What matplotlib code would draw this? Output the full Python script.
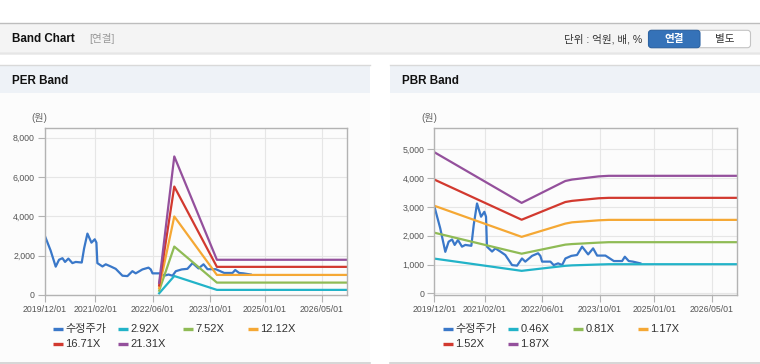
import matplotlib
matplotlib.use("Agg")
import matplotlib.pyplot as plt
import matplotlib.dates as mdates
from matplotlib.patches import Rectangle, FancyBboxPatch
from matplotlib.lines import Line2D
import pandas as pd

plt.rcParams['font.family'] = ['Liberation Sans', 'Noto Sans CJK KR']

# ----------------------------
# DATA
# ----------------------------
price_dates = ['2019-12-02', '2020-01-20', '2020-03-03', '2020-03-31', '2020-04-29',
               '2020-05-21', '2020-06-18', '2020-07-22', '2020-08-19', '2020-10-09',
               '2020-10-29', '2020-11-26', '2020-12-30', '2021-01-27', '2021-02-10',
               '2021-02-18', '2021-04-02', '2021-04-30', '2021-06-11', '2021-07-23',
               '2021-09-18', '2021-10-30', '2021-12-11', '2022-01-08', '2022-03-06',
               '2022-04-26', '2022-05-15', '2022-05-30', '2022-08-08', '2022-09-05',
               '2022-10-12', '2022-11-15', '2022-12-13', '2023-02-01', '2023-03-21',
               '2023-05-03', '2023-06-23', '2023-08-04', '2023-09-07', '2023-11-16',
               '2024-01-26', '2024-04-05', '2024-04-28', '2024-05-31', '2024-07-05',
               '2024-09-06']
price = [3010, 2260, 1440, 1790, 1870, 1680, 1850, 1620, 1680, 1650,
         2370, 3120, 2660, 2830, 2660, 1620, 1450, 1560, 1450, 1330,
         980, 960, 1210, 1100, 1300, 1390, 1300, 1100, 1100, 980,
         1040, 980, 1210, 1300, 1330, 1620, 1350, 1560, 1310, 1310,
         1120, 1120, 1270, 1120, 1100, 1040]

per_dates = ['2022-07-25', '2022-11-30', '2023-11-25', '2026-12-01']
per_labels = ['2.92X', '7.52X', '12.12X', '16.71X', '21.31X']
per_bands = [
    [85, 965, 260, 260],
    [220, 2460, 630, 630],
    [350, 3990, 1020, 1020],
    [485, 5510, 1430, 1430],
    [620, 7040, 1790, 1790],
]

pbr_dates = ['2019-12-01', '2021-12-08', '2022-12-12', '2023-02-07',
             '2023-09-20', '2023-12-14', '2026-12-01']
pbr_labels = ['0.46X', '0.81X', '1.17X', '1.52X', '1.87X']
pbr_bands = [
    [1205, 780, 955, 970, 1000, 1010, 1010],
    [2105, 1375, 1690, 1710, 1760, 1775, 1775],
    [3040, 1960, 2420, 2465, 2535, 2550, 2550],
    [3950, 2555, 3170, 3210, 3300, 3315, 3315],
    [4900, 3140, 3900, 3950, 4060, 4080, 4080],
]

x_ticks = ['2019-12-01', '2021-02-01', '2022-06-01', '2023-10-01', '2025-01-01', '2026-05-01']
price_label = '수정주가'

colors = ['#3a78c9', '#22b3c8', '#8fbb55', '#f5a834', '#d2392f', '#94509c']

W, H = 760, 364

# ----------------------------
# FIGURE + PAGE BACKGROUND
# ----------------------------
fig = plt.figure(figsize=(W / 100, H / 100), dpi=100)
fig.patch.set_facecolor('white')

bg = fig.add_axes([0, 0, 1, 1], zorder=-10)
bg.set_xlim(0, W)
bg.set_ylim(H, 0)
bg.axis('off')

# header bar
bg.add_patch(Rectangle((0, 23), W, 29.5, facecolor='#f4f4f4', edgecolor='none'))
bg.plot([0, W], [23, 23], color='#bdbdbd', lw=1)
bg.plot([0, W], [52.8, 52.8], color='#c9c9c9', lw=1)
bg.plot([0, W], [54, 54], color='#ececec', lw=1.2)
bg.text(11.5, 38.5, 'Band Chart', fontsize=8.4, fontweight='bold', color='#111',
        va='center', ha='left')
bg.text(89, 38.5, '[연결]', fontsize=7.6, color='#999', va='center', ha='left')
bg.text(642, 39, '단위 : 억원, 배, %', fontsize=7.6, color='#333', va='center', ha='right')

bg.add_patch(FancyBboxPatch((648.5, 30.3), 102, 17.4, boxstyle='round,pad=0,rounding_size=3',
                            facecolor='white', edgecolor='#c4c4c4', lw=0.8))
bg.add_patch(FancyBboxPatch((648.5, 30.3), 51.5, 17.4, boxstyle='round,pad=0,rounding_size=3',
                            facecolor='#3572b8', edgecolor='#2d64a4', lw=0.8))
bg.text(674, 39.2, '연결', fontsize=7.6, fontweight='bold', color='white', va='center', ha='center')
bg.text(725, 39.2, '별도', fontsize=7.6, color='#333', va='center', ha='center')

# panels
for px0, title in [(0, 'PER Band'), (390, 'PBR Band')]:
    bg.add_patch(Rectangle((px0, 64.7), 370, 298.5, facecolor='#fcfcfc', edgecolor='none'))
    bg.add_patch(Rectangle((px0, 64.7), 370, 28, facecolor='#eef2f7', edgecolor='none'))
    bg.plot([px0, px0 + 370], [64.7, 64.7], color='#d9d9d9', lw=1)
    bg.plot([px0, px0 + 370], [363, 363], color='#d0d0d0', lw=1.2)
    bg.text(px0 + 11.5, 80.5, title, fontsize=8.4, fontweight='bold', color='#111',
            va='center', ha='left')
    bg.text(px0 + 39.5, 118, '(원)', fontsize=7.2, color='#666', va='center', ha='center')

# ----------------------------
# CHARTS
# ----------------------------
pdates = pd.to_datetime(price_dates)
x_left = pd.Timestamp('2019-12-01')
x_right = pd.Timestamp('2026-12-01')


def draw_band(rect, band_dates, bands, ylim, yticks):
    ax = fig.add_axes(rect)
    ax.set_facecolor('none')
    ax.plot(pdates, price, color=colors[0], lw=1.6)
    bd = pd.to_datetime(band_dates)
    for i, vals in enumerate(bands):
        ax.plot(bd, vals, color=colors[i + 1], lw=1.6)
    ax.set_xlim(x_left, x_right)
    ax.set_ylim(*ylim)
    ax.set_yticks(yticks)
    ax.set_yticklabels([f'{v:,}' for v in yticks])
    ax.set_xticks(pd.to_datetime(x_ticks))
    ax.set_xticklabels([d.replace('-', '/') for d in x_ticks])
    ax.grid(True, color='#e6e6e6', lw=0.8)
    ax.set_axisbelow(True)
    for s in ax.spines.values():
        s.set_color('#b3b3b3')
        s.set_linewidth(1)
    ax.tick_params(axis='both', length=5, width=0.8, color='#b3b3b3',
                   labelsize=6.3, labelcolor='#555', pad=2)
    return ax


ax1 = draw_band([44.7 / W, 1 - 295 / H, 302.6 / W, 166.7 / H],
                per_dates, per_bands, (0, 8470), [0, 2000, 4000, 6000, 8000])
ax2 = draw_band([434.3 / W, 1 - 295 / H, 302.6 / W, 166.7 / H],
                pbr_dates, pbr_bands, (-59, 5730), [0, 1000, 2000, 3000, 4000, 5000])

# ----------------------------
# LEGENDS (fixed-width grid like the original)
# ----------------------------
for x0, labels in [(53, per_labels), (443, pbr_labels)]:
    items = [price_label] + labels
    for k, lab in enumerate(items):
        col, row = k % 4, k // 4
        lx = x0 + col * 65
        ly = 329.3 + row * 14.7
        bg.plot([lx, lx + 10], [ly, ly], color=colors[k], lw=2.4, solid_capstyle='butt')
        bg.text(lx + 12.5, ly, lab, fontsize=8, color='#333', va='center', ha='left')

fig.savefig('out.png', dpi=100)
